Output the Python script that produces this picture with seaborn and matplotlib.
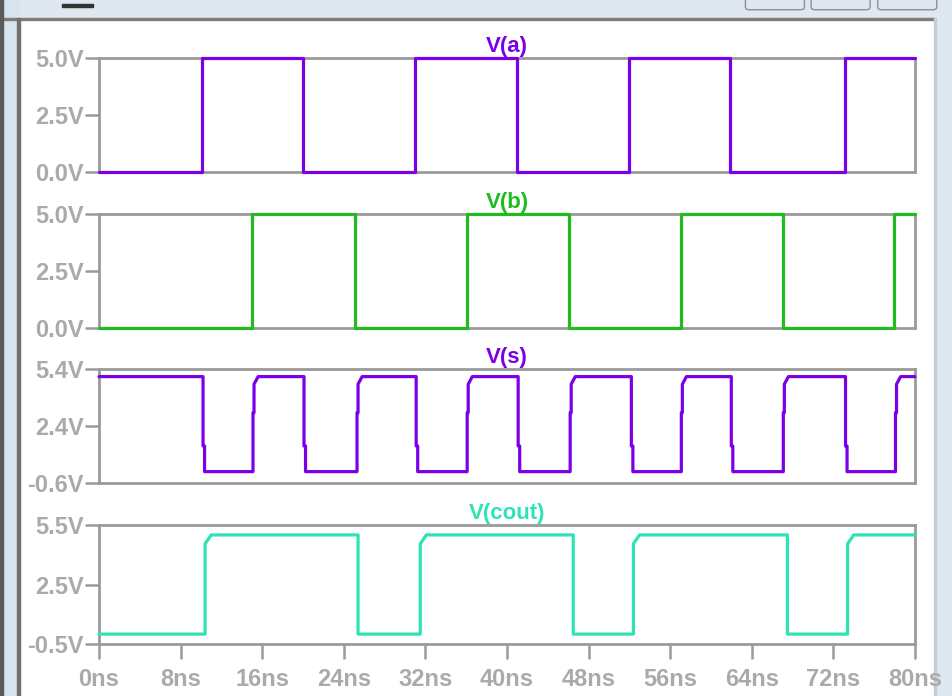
import numpy as np
import pandas as pd
import matplotlib
matplotlib.use("Agg")
import matplotlib.pyplot as plt
import seaborn as sns
from matplotlib.patches import Rectangle, FancyBboxPatch

# =========================
# DATA (read off the waveform viewer)
# =========================

# transition times in ns
a_rise = [10.1, 31.0, 52.0, 73.1]
a_fall = [20.0, 41.0, 61.9]

b_rise = [15.0, 36.1, 57.1, 78.0]
b_fall = [25.1, 46.1, 67.1]

s_fall = [10.2, 20.1, 31.1, 41.1, 52.2, 62.0, 73.2]
s_rise = [15.1, 25.3, 36.1, 46.2, 57.1, 67.1, 78.1]

cout_rise = [10.4, 31.5, 52.4, 73.4]
cout_fall = [25.4, 46.5, 67.5]

# logic levels (V)
a_levels = (0.0, 5.0)
b_levels = (0.0, 5.0)
s_levels = (0.0, 5.0)
cout_levels = (0.0, 5.0)

t_end = 80.0

y_ticks_a = [0.0, 2.5, 5.0]
y_ticks_b = [0.0, 2.5, 5.0]
y_ticks_s = [-0.6, 2.4, 5.4]
y_ticks_cout = [-0.5, 2.5, 5.5]
x_ticks = [0, 8, 16, 24, 32, 40, 48, 56, 64, 72, 80]


# =========================
# BUILD STEP WAVEFORMS
# =========================

def square_wave(rises, falls, levels, start_high=False, edge='hard'):
    lo, hi = levels
    edges = sorted([(t, 'r') for t in rises] + [(t, 'f') for t in falls])
    t = [0.0]
    v = [hi if start_high else lo]
    for te, kind in edges:
        if kind == 'r':
            if edge == 'kink':
                t += [te, te, te + 0.1, te + 0.1, te + 0.5]
                v += [v[-1], lo + 0.62 * (hi - lo), lo + 0.62 * (hi - lo), hi - 0.4, hi]
            elif edge == 'round':
                t += [te, te, te + 0.6]
                v += [v[-1], hi - 0.45, hi]
            else:
                t += [te, te]
                v += [v[-1], hi]
        else:
            if edge == 'kink':
                t += [te, te, te + 0.15, te + 0.15]
                v += [v[-1], lo + 0.27 * (hi - lo), lo + 0.27 * (hi - lo), lo]
            else:
                t += [te, te]
                v += [v[-1], lo]
    t.append(t_end)
    v.append(v[-1])
    return pd.DataFrame({'time': t, 'volt': v})


df_a = square_wave(a_rise, a_fall, a_levels)
df_b = square_wave(b_rise, b_fall, b_levels)
df_s = square_wave(s_rise, s_fall, s_levels, start_high=True, edge='kink')
df_cout = square_wave(cout_rise, cout_fall, cout_levels, edge='round')


# =========================
# PLOT
# =========================

sns.set_style("white")
plt.rcParams['font.family'] = ['Liberation Sans', 'DejaVu Sans']

fig = plt.figure(figsize=(9.52, 6.96), dpi=100)

# window chrome (kept below the axes)
chrome = '#dfe7f1'
def chrome_rect(xy, w, h, c, z):
    fig.patches.append(Rectangle(xy, w, h, transform=fig.transFigure, color=c, zorder=z))

chrome_rect((0, 0.973), 1, 0.027, chrome, -3)
chrome_rect((0, 0.971), 0.982, 0.003, '#7d7d7d', -2)
chrome_rect((0, 0), 0.019, 1, '#d8e3f0', -3)
chrome_rect((0, 0), 0.003, 1, '#5a5a5a', -2)
chrome_rect((0.018, 0), 0.003, 0.974, '#707070', -2)
chrome_rect((0.982, 0), 0.018, 1, chrome, -3)
chrome_rect((0.981, 0), 0.002, 0.974, '#c4ccd6', -2)
chrome_rect((0.065, 0.990), 0.033, 0.004, '#333333', -2)
for bx in [0.783, 0.852, 0.922]:
    fig.patches.append(FancyBboxPatch((bx, 0.986), 0.062, 0.03, transform=fig.transFigure,
                                      boxstyle='round,pad=0,rounding_size=0.004',
                                      fc=chrome, ec='#8a9098', lw=1.0, zorder=-2))

grey = '#9a9a9a'
label_grey = '#aaaaaa'

panels = [
    (df_a, 'V(a)', '#7b00e8', y_ticks_a, ['0.0V', '2.5V', '5.0V'], (0.7529, 0.1638)),
    (df_b, 'V(b)', '#1fbb1f', y_ticks_b, ['0.0V', '2.5V', '5.0V'], (0.5287, 0.1638)),
    (df_s, 'V(s)', '#7b00e8', y_ticks_s, ['-0.6V', '2.4V', '5.4V'], (0.3060, 0.1638)),
    (df_cout, 'V(cout)', '#2ee3b4', y_ticks_cout, ['-0.5V', '2.5V', '5.5V'], (0.0747, 0.1710)),
]

for i, (df, name, color, yt, ytl, (bottom, height)) in enumerate(panels):
    ax = fig.add_axes([0.104, bottom, 0.857, height])
    sns.lineplot(data=df, x='time', y='volt', ax=ax, color=color, linewidth=2.3,
                 sort=False, estimator=None, zorder=5, clip_on=False)
    ax.set_xlim(0, t_end)
    ax.set_ylim(yt[0], yt[-1])
    ax.set_yticks(yt)
    ax.set_yticklabels(ytl, fontweight='bold')
    ax.set_xlabel('')
    ax.set_ylabel('')
    for sp in ax.spines.values():
        sp.set_color(grey)
        sp.set_linewidth(2.0)
    ax.tick_params(axis='y', left=True, length=10, width=1.8, color=grey,
                   labelcolor=label_grey, labelsize=17, pad=1)
    if i == 3:
        ax.set_xticks(x_ticks)
        ax.set_xticklabels([f"{x}ns" for x in x_ticks], fontweight='bold')
        ax.tick_params(axis='x', bottom=True, length=11, width=1.8, color=grey,
                       labelcolor=label_grey, labelsize=17, pad=6)
    else:
        ax.set_xticks([])
    ax.set_title(name, color=color, fontsize=16, fontweight='bold', pad=4)

fig.savefig("out.png", dpi=100)
